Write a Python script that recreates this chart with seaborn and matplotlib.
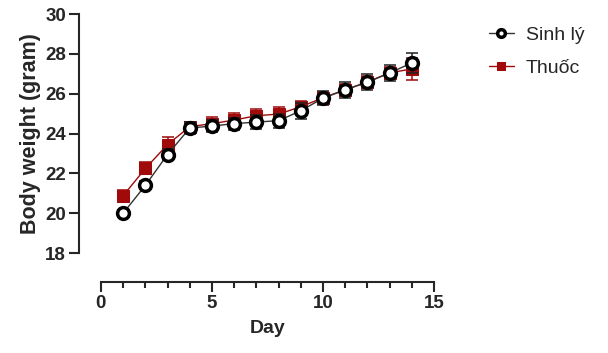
import matplotlib
matplotlib.use("Agg")
import matplotlib.pyplot as plt
import pandas as pd
import seaborn as sns

# Data (mean +/- SEM)
days = list(range(1, 15))
sinh_ly = [20.0, 21.4, 22.95, 24.28, 24.38, 24.5, 24.58, 24.65, 25.15, 25.78, 26.2, 26.58, 27.05, 27.55]
sinh_ly_err = [0.15, 0.2, 0.3, 0.3, 0.3, 0.3, 0.35, 0.35, 0.4, 0.35, 0.4, 0.4, 0.4, 0.5]
thuoc = [20.88, 22.25, 23.45, 24.35, 24.5, 24.68, 24.9, 24.98, 25.35, 25.8, 26.2, 26.6, 27.05, 27.25]
thuoc_err = [0.3, 0.3, 0.4, 0.25, 0.35, 0.35, 0.35, 0.35, 0.3, 0.3, 0.3, 0.3, 0.3, 0.55]

df = pd.DataFrame({"day": days, "sinh_ly": sinh_ly, "thuoc": thuoc})

red = "#A00A0A"

sns.set_style("ticks")
plt.rcParams["font.family"] = ["Liberation Sans", "DejaVu Sans"]

fig = plt.figure(figsize=(6.08, 3.53), dpi=100)
ax = fig.add_axes([0.166, 0.283, 0.548, 0.677])

# Thuốc (drawn first, sits behind)
ax.errorbar(df["day"], df["thuoc"], yerr=thuoc_err, fmt="none", ecolor=red,
            elinewidth=1.1, capsize=4, capthick=1.1, zorder=2)
sns.lineplot(data=df, x="day", y="thuoc", ax=ax, color=red, linewidth=1,
             marker="s", markersize=8, markerfacecolor=red, markeredgecolor=red,
             label="Thuốc", zorder=3)

# Sinh lý
ax.errorbar(df["day"], df["sinh_ly"], yerr=sinh_ly_err, fmt="none", ecolor="#222222",
            elinewidth=1.1, capsize=4, capthick=1.1, zorder=4)
sns.lineplot(data=df, x="day", y="sinh_ly", ax=ax, color="#333333", linewidth=1,
             marker="o", markersize=8.5, markerfacecolor="white", markeredgecolor="black",
             markeredgewidth=2.5, label="Sinh lý", zorder=5)

ax.set_xlim(0, 15)
ax.set_ylim(18, 30)
ax.set_xticks([0, 5, 10, 15])
ax.set_xticks(range(0, 16), minor=True)
ax.set_yticks(range(18, 31, 2))

sns.despine(ax=ax)
ax.spines["left"].set_position(("outward", 16))
ax.spines["bottom"].set_position(("outward", 21))
for s in ["left", "bottom"]:
    ax.spines[s].set_linewidth(1.5)
ax.tick_params(axis="both", which="major", width=1.5, length=7, labelsize=13.5, pad=2)
ax.tick_params(axis="x", which="minor", width=1.5, length=4)
for lbl in ax.get_xticklabels() + ax.get_yticklabels():
    lbl.set_fontweight("bold")

ax.set_xlabel("Day", fontsize=14, fontweight="bold", labelpad=6)
ax.set_ylabel("Body weight (gram)", fontsize=15.5, fontweight="bold", labelpad=3)

handles, labels = ax.get_legend_handles_labels()
ax.get_legend().remove()
order = [labels.index("Sinh lý"), labels.index("Thuốc")]
fig.legend([handles[i] for i in order], [labels[i] for i in order],
           loc="upper left", bbox_to_anchor=(0.775, 0.975), frameon=False,
           fontsize=14, handlelength=1.3, handletextpad=0.6, labelspacing=0.8,
           markerscale=0.65)

fig.savefig("out.png", dpi=100)
